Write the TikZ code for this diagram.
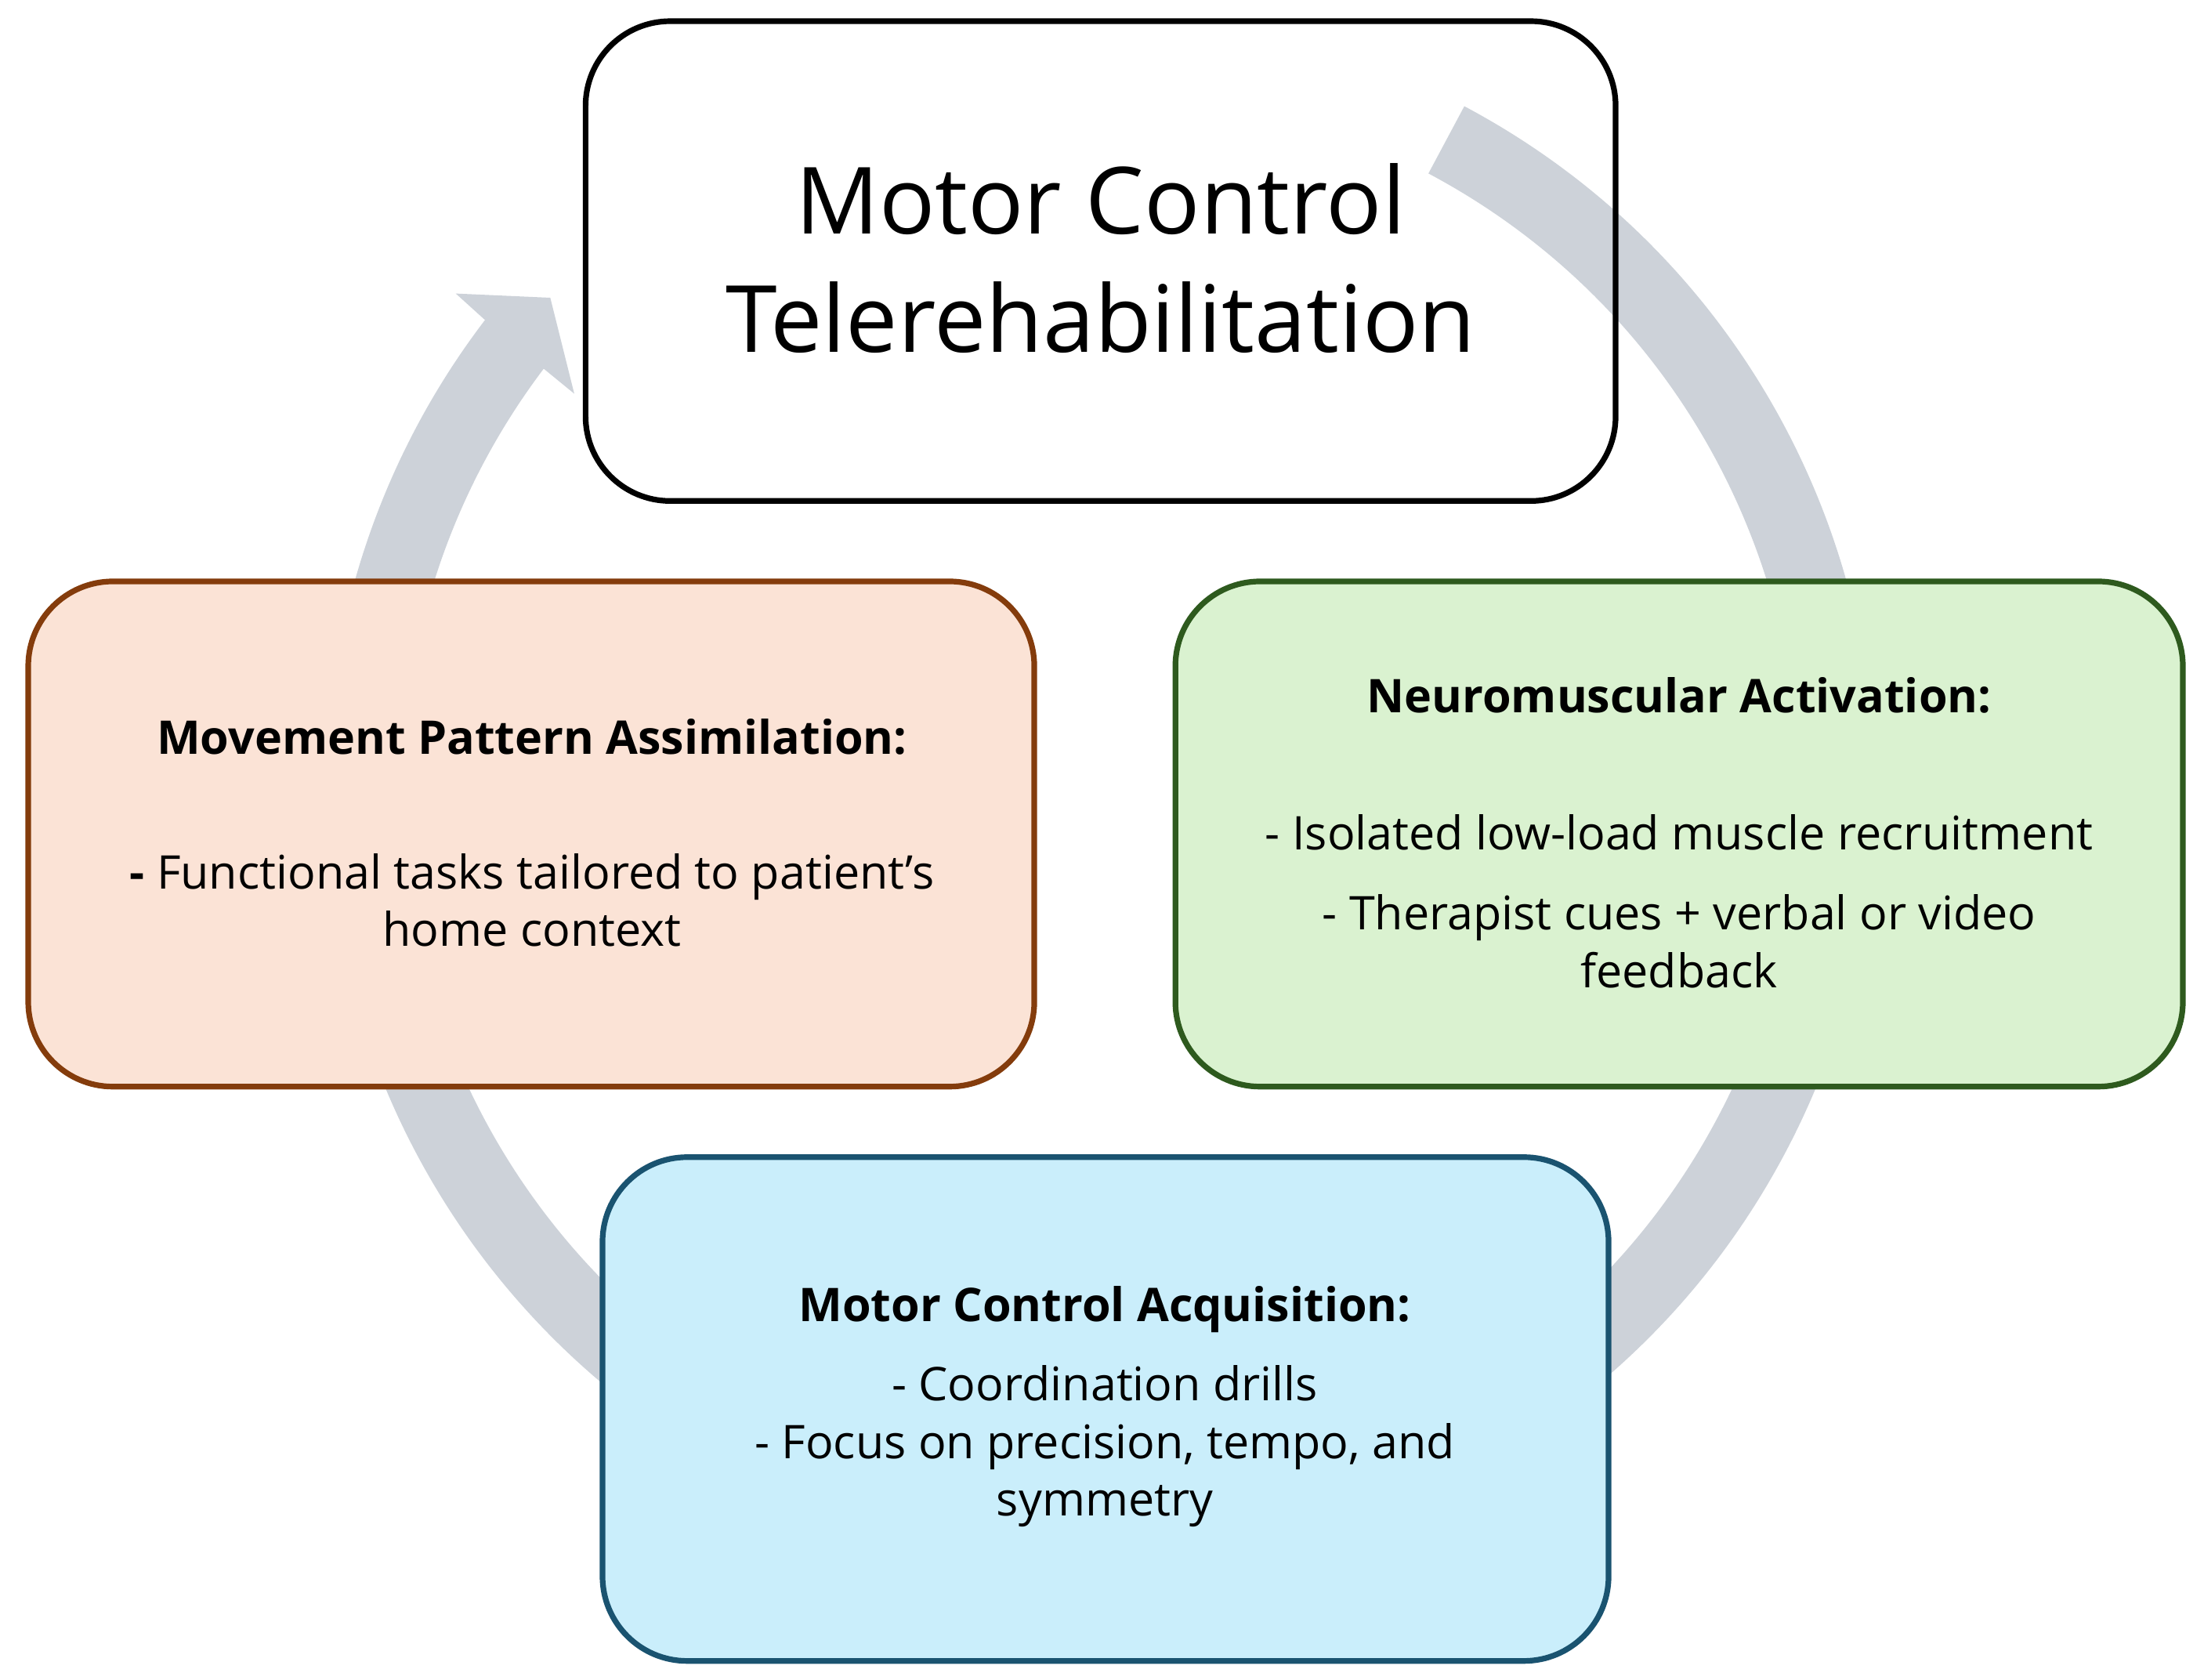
\documentclass[tikz,border=0pt]{standalone}
\usepackage{fontspec}
\setmainfont{Open Sans}
\definecolor{ring}{HTML}{CDD2D9}
\definecolor{lfill}{HTML}{FBE3D6}\definecolor{ldraw}{HTML}{843C0C}
\definecolor{rfill}{HTML}{DAF2D0}\definecolor{rdraw}{HTML}{2E5A1E}
\definecolor{bfill}{HTML}{CAEEFB}\definecolor{bdraw}{HTML}{1A5370}
\begin{document}
\begin{tikzpicture}[x=1bp,y=1bp,
  box/.style={rounded corners=60bp,line width=4bp},
  txt/.style={font=\fontsize{33}{41}\selectfont,align=center,inner sep=0},
  head/.style={font=\fontsize{33}{41}\selectfont\bfseries,align=center,inner sep=0}]
\useasboundingbox (0,0) rectangle (1562,-1190);
% top box fill, ring, top box border
\fill[white,rounded corners=60bp] (415,-15) rectangle (1145,-355);
\draw[ring,line width=54bp] ({780+522*cos(62)},{-560+522*sin(62)}) arc[start angle=62,end angle=-217.5,radius=522];
\fill[ring] (344,-227) -- (323,-208) -- (390,-211) -- (407,-279) -- (385,-261) -- cycle;
\draw[box,draw=black] (415,-15) rectangle (1145,-355);
\node[inner sep=0] (top) at (780,-185) {};
% other boxes
\draw[box,fill=lfill,draw=ldraw] (20,-412) rectangle (733,-770);
\draw[box,fill=rfill,draw=rdraw] (833,-412) rectangle (1547,-770);
\draw[box,fill=bfill,draw=bdraw] (427,-820) rectangle (1140,-1177);
% texts
\node[align=center,font=\fontsize{66}{84}\selectfont] (title) at (780,-183) {Motor Control\\Telerehabilitation};
\node[head] (lh) at (377,-522) {Movement Pattern Assimilation:};
\node[txt] (lt) at (377,-638) {\textbf{-} Functional tasks tailored to patient’s\\home context};
\node[head] (rh) at (1190,-493) {Neuromuscular Activation:};
\node[txt] (rt1) at (1190,-590) {- Isolated low-load muscle recruitment};
\node[txt] (rt2) at (1190,-667) {- Therapist cues + verbal or video\\feedback};
\node[head] (bh) at (783,-928) {Motor Control Acquisition:};
\node[txt] (bt) at (783,-1025) {- Coordination drills\\- Focus on precision, tempo, and\\symmetry};
\end{tikzpicture}
\end{document}
